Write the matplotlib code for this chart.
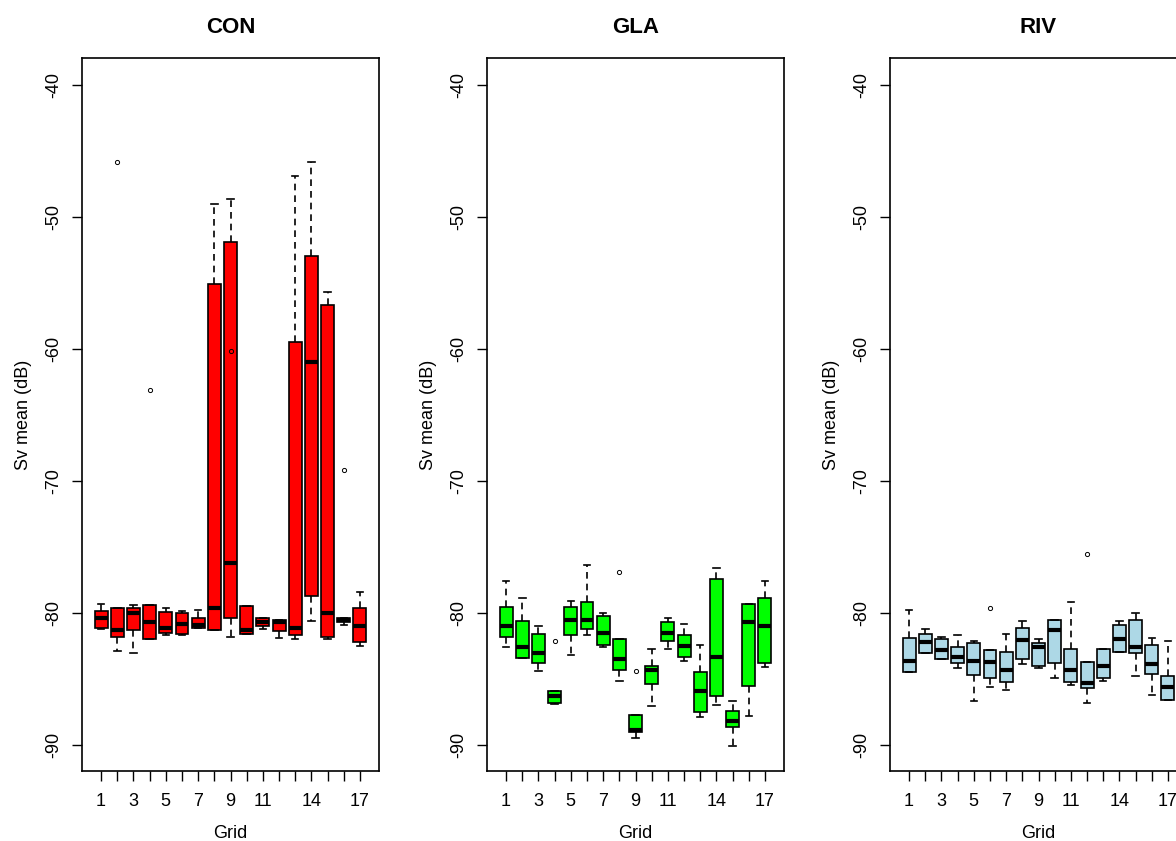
import matplotlib.pyplot as plt

plt.rcParams['font.family'] = ['Liberation Sans', 'DejaVu Sans']

grid = list(range(1, 18))
tick_labels = ['1', '', '3', '', '5', '', '7', '', '9', '', '11', '', '', '14', '', '', '17']

# per-grid summary: q1, median, q3, lower whisker, upper whisker
con_q1 = [-81.1, -81.8, -81.3, -82.0, -81.5, -81.6, -81.15, -81.3, -80.4, -81.6, -81.0, -81.4, -81.7, -78.7, -81.8, -80.7, -82.2]
con_med = [-80.4, -81.3, -80.0, -80.7, -81.1, -80.8, -80.9, -79.6, -76.2, -81.3, -80.7, -80.7, -81.1, -61.0, -80.0, -80.55, -81.0]
con_q3 = [-79.85, -79.6, -79.6, -79.4, -79.95, -80.0, -80.4, -55.1, -51.9, -79.5, -80.4, -80.5, -59.5, -52.95, -56.7, -80.4, -79.6]
con_lo = [-81.2, -82.9, -83.05, -82.0, -81.7, -81.65, -81.15, -81.3, -81.8, -81.6, -81.2, -81.9, -82.0, -80.6, -82.0, -80.9, -82.5]
con_hi = [-79.3, -79.6, -79.4, -79.4, -79.6, -79.85, -79.8, -49.0, -48.6, -79.5, -80.35, -80.5, -46.9, -45.86, -55.7, -80.4, -78.4]
con_out = {2: [-45.86], 4: [-63.1], 9: [-60.15], 16: [-69.2]}

gla_q1 = [-81.8, -83.4, -83.8, -86.8, -81.7, -81.2, -82.45, -84.3, -89.0, -85.4, -82.1, -83.3, -87.5, -86.3, -88.6, -85.5, -83.8]
gla_med = [-81.0, -82.6, -83.0, -86.3, -80.5, -80.5, -81.55, -83.45, -88.9, -84.3, -81.55, -82.5, -85.9, -83.35, -88.15, -80.7, -81.0]
gla_q3 = [-79.57, -80.6, -81.6, -85.9, -79.57, -79.2, -80.2, -82.0, -87.7, -84.0, -80.7, -81.7, -84.5, -77.4, -87.4, -79.3, -78.9]
gla_lo = [-82.6, -83.4, -84.4, -86.9, -83.2, -81.7, -82.6, -85.15, -89.5, -87.05, -82.7, -83.6, -87.9, -87.0, -90.05, -87.8, -84.1]
gla_hi = [-77.55, -78.9, -81.0, -85.9, -79.1, -76.4, -79.97, -82.0, -87.7, -82.7, -80.4, -80.85, -82.4, -76.6, -86.7, -79.3, -77.55]
gla_out = {4: [-82.1], 8: [-76.9], 9: [-84.4]}

riv_q1 = [-84.5, -83.0, -83.5, -83.8, -84.7, -84.9, -85.2, -83.5, -84.0, -83.8, -85.2, -85.7, -84.9, -82.95, -83.05, -84.65, -86.6]
riv_med = [-83.6, -82.2, -82.8, -83.35, -83.6, -83.7, -84.3, -82.05, -82.55, -81.3, -84.3, -85.3, -84.0, -81.97, -82.6, -83.9, -85.6]
riv_q3 = [-81.9, -81.6, -82.0, -82.6, -82.3, -82.8, -82.95, -81.15, -82.3, -80.5, -82.7, -83.7, -82.7, -80.9, -80.5, -82.45, -84.8]
riv_lo = [-84.5, -83.0, -83.5, -84.2, -86.7, -85.6, -85.8, -83.9, -84.2, -84.95, -85.45, -86.8, -85.15, -82.95, -84.75, -86.2, -86.6]
riv_hi = [-79.8, -81.2, -81.8, -81.7, -82.1, -82.8, -81.6, -80.6, -82.0, -80.5, -79.2, -83.7, -82.7, -80.6, -79.97, -81.9, -82.1]
riv_out = {6: [-79.6], 12: [-75.5]}

panels = [
    ('CON', 'red', con_q1, con_med, con_q3, con_lo, con_hi, con_out),
    ('GLA', '#00ff00', gla_q1, gla_med, gla_q3, gla_lo, gla_hi, gla_out),
    ('RIV', 'lightblue', riv_q1, riv_med, riv_q3, riv_lo, riv_hi, riv_out),
]

fig = plt.figure(figsize=(11.76, 8.41), dpi=100)
lefts = [82, 487, 890]

for left, (title, color, q1, med, q3, lo, hi, out) in zip(lefts, panels):
    ax = fig.add_axes([left / 1176, 70 / 841, 297 / 1176, 713 / 841])
    stats = []
    for i, g in enumerate(grid):
        stats.append(dict(q1=q1[i], med=med[i], q3=q3[i],
                          whislo=lo[i], whishi=hi[i], fliers=out.get(g, [])))
    ax.bxp(stats, positions=grid, widths=0.8, patch_artist=True,
           boxprops=dict(facecolor=color, edgecolor='black', linewidth=1.2),
           medianprops=dict(color='black', linewidth=3, solid_capstyle='butt'),
           whiskerprops=dict(color='black', linestyle=(0, (4, 3)), linewidth=1.2),
           capprops=dict(color='black', linewidth=1.2),
           capwidths=0.4,
           flierprops=dict(marker='o', markersize=3, markerfacecolor='none',
                           markeredgecolor='black', markeredgewidth=0.7))
    ax.set_xlim(-0.18, 18.18)
    ax.set_ylim(-91.97, -37.95)
    ax.set_xticks(grid)
    ax.set_xticklabels(tick_labels)
    ax.set_yticks([-90, -80, -70, -60, -50, -40])
    ax.set_yticklabels(['-90', '-80', '-70', '-60', '-50', '-40'], rotation=90, va='center')
    ax.tick_params(direction='out', length=7, width=1, labelsize=13)
    ax.tick_params(axis='x', pad=9)
    ax.tick_params(axis='y', pad=7)
    for s in ax.spines.values():
        s.set_linewidth(1.2)
    ax.set_title(title, fontsize=16, fontweight='bold', pad=18)
    ax.set_xlabel('Grid', fontsize=13, labelpad=11)
    ax.set_ylabel('Sv mean (dB)', fontsize=13, labelpad=10)

plt.savefig('out.png', dpi=100)
